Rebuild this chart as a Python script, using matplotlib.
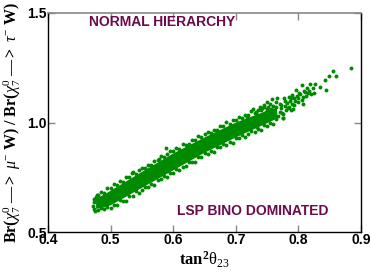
import matplotlib
matplotlib.use("Agg")
import matplotlib.pyplot as plt

plt.rcParams['mathtext.fontset'] = 'custom'
plt.rcParams['mathtext.rm'] = 'Liberation Serif'
plt.rcParams['mathtext.it'] = 'Liberation Serif:italic'
plt.rcParams['mathtext.bf'] = 'Liberation Serif:bold'

# ---- data ----
# dense core of the band: x, lower edge, upper edge
core_x  = [0.476, 0.49, 0.50, 0.55, 0.60, 0.65, 0.70, 0.75, 0.765]
core_lo = [0.608, 0.615, 0.625, 0.705, 0.785, 0.865, 0.935, 1.000, 1.020]
core_hi = [0.655, 0.675, 0.692, 0.778, 0.862, 0.935, 1.003, 1.057, 1.070]

# individual points at the band edges and in the sparse upper end
left_x = [0.473, 0.472, 0.473, 0.474, 0.476, 0.475, 0.478]
left_y = [0.605, 0.620, 0.635, 0.650, 0.660, 0.598, 0.668]

low_x = [0.480, 0.485, 0.490, 0.495, 0.500, 0.505, 0.510, 0.515, 0.520, 0.525,
         0.530, 0.535, 0.540, 0.545, 0.550, 0.555, 0.560, 0.565, 0.570, 0.575,
         0.580, 0.585, 0.590, 0.595, 0.600, 0.605, 0.610, 0.615, 0.620, 0.625,
         0.630, 0.635, 0.640, 0.645, 0.650, 0.655, 0.660, 0.665, 0.670, 0.675,
         0.680, 0.685, 0.690, 0.695, 0.700, 0.705, 0.710, 0.715, 0.720, 0.725,
         0.730, 0.735, 0.740, 0.745, 0.750, 0.755, 0.760, 0.765]
low_y = [0.600, 0.608, 0.603, 0.614, 0.610, 0.625, 0.623, 0.644, 0.643, 0.643,
         0.664, 0.665, 0.685, 0.678, 0.694, 0.707, 0.704, 0.719, 0.716, 0.738,
         0.740, 0.757, 0.751, 0.768, 0.771, 0.788, 0.781, 0.798, 0.801, 0.819,
         0.820, 0.819, 0.841, 0.842, 0.860, 0.855, 0.869, 0.867, 0.886, 0.887,
         0.903, 0.896, 0.910, 0.907, 0.927, 0.927, 0.942, 0.936, 0.949, 0.963,
         0.958, 0.972, 0.967, 0.987, 0.986, 0.997, 0.995, 1.014]

up_x = [0.480, 0.485, 0.490, 0.495, 0.500, 0.505, 0.510, 0.515, 0.520, 0.525,
        0.530, 0.535, 0.540, 0.545, 0.550, 0.555, 0.560, 0.565, 0.570, 0.575,
        0.580, 0.585, 0.590, 0.595, 0.600, 0.605, 0.610, 0.615, 0.620, 0.625,
        0.630, 0.635, 0.640, 0.645, 0.650, 0.655, 0.660, 0.665, 0.670, 0.675,
        0.680, 0.685, 0.690, 0.695, 0.700, 0.705, 0.710, 0.715, 0.720, 0.725,
        0.730, 0.735, 0.740, 0.745, 0.750]
up_y = [0.668, 0.684, 0.680, 0.702, 0.701, 0.718, 0.713, 0.731, 0.729, 0.750,
        0.751, 0.772, 0.764, 0.781, 0.794, 0.792, 0.805, 0.806, 0.825, 0.828,
        0.847, 0.842, 0.857, 0.871, 0.869, 0.883, 0.880, 0.900, 0.899, 0.902,
        0.920, 0.921, 0.940, 0.933, 0.946, 0.958, 0.954, 0.965, 0.965, 0.985,
        0.985, 1.002, 0.995, 1.010, 1.012, 1.027, 1.019, 1.034, 1.034, 1.051,
        1.042, 1.057, 1.058, 1.071, 1.063]

mid_x = [0.768, 0.770, 0.772, 0.775, 0.778, 0.780, 0.782, 0.785, 0.787, 0.790,
         0.792, 0.795, 0.797, 0.800, 0.803, 0.806, 0.810, 0.812, 0.817, 0.820,
         0.770, 0.765, 0.760, 0.755, 0.752, 0.745, 0.738, 0.728, 0.778, 0.785,
         0.790, 0.762, 0.775, 0.757, 0.748, 0.733]
mid_y = [1.030, 1.050, 1.065, 1.040, 1.075, 1.055, 1.090, 1.070, 1.100, 1.085,
         1.060, 1.100, 1.120, 1.110, 1.130, 1.105, 1.140, 1.120, 1.145, 1.130,
         1.085, 1.095, 1.075, 1.085, 1.070, 1.080, 1.070, 1.060, 1.100, 1.115,
         1.125, 1.045, 1.020, 1.060, 1.050, 1.048]

out_x = [0.589, 0.577, 0.534, 0.884, 0.856, 0.849, 0.860, 0.843, 0.844, 0.835,
         0.826, 0.818, 0.823, 0.825, 0.805, 0.813, 0.796, 0.809, 0.801, 0.815,
         0.807, 0.808, 0.793, 0.788, 0.799, 0.777, 0.766, 0.758, 0.750, 0.788,
         0.776, 0.774, 0.783, 0.793, 0.772, 0.742, 0.732, 0.756, 0.764, 0.761,
         0.740, 0.724, 0.734, 0.718]
out_y = [0.882, 0.833, 0.768, 1.250, 1.237, 1.214, 1.214, 1.193, 1.148, 1.161,
         1.176, 1.177, 1.156, 1.133, 1.171, 1.156, 1.148, 1.144, 1.133, 1.133,
         1.118, 1.083, 1.113, 1.110, 1.095, 1.113, 1.110, 1.107, 1.095, 1.057,
         1.019, 1.042, 1.065, 1.080, 1.080, 1.068, 1.042, 1.057, 1.072, 1.042,
         1.011, 1.004, 0.981, 1.026]

xticks = [0.4, 0.5, 0.6, 0.7, 0.8, 0.9]
yticks = [0.5, 1.0, 1.5]

green = '#008a00'
txtc = '#6b0a4c'

W, H = 371, 273
fig = plt.figure(figsize=(W/100, H/100), dpi=100)
ax = fig.add_axes([48/W, 1-232/H, (361-48)/W, (232-13)/H])

ax.fill_between(core_x, core_lo, core_hi, color=green, lw=0)
px = left_x + low_x + up_x + mid_x + out_x
py = left_y + low_y + up_y + mid_y + out_y
ax.scatter(px, py, s=8, color=green, lw=0)

ax.set_xlim(0.4, 0.9)
ax.set_ylim(0.5, 1.5)
ax.set_xticks(xticks)
ax.set_yticks(yticks)
ax.set_xticklabels([f'{v:.1f}' for v in xticks])
ax.set_yticklabels([f'{v:.1f}' for v in yticks])
for lab in ax.get_xticklabels() + ax.get_yticklabels():
    lab.set_fontfamily('Liberation Sans')
    lab.set_fontweight('bold')
    lab.set_fontsize(10)
ax.tick_params(direction='in', length=5, color='#888888', width=1, pad=1)
ax.tick_params(top=True, right=True)
for s in ['left', 'bottom', 'right']:
    ax.spines[s].set_color('black')
    ax.spines[s].set_linewidth(1)
ax.spines['top'].set_color('#888888')
ax.spines['top'].set_linewidth(1.2)

ax.text(0.4657, 1.457, 'NORMAL HIERARCHY', color=txtc, fontsize=10,
        fontweight='bold', family='Liberation Sans', ha='left', va='center')
ax.text(0.6067, 0.596, 'LSP BINO DOMINATED', color=txtc, fontsize=10,
        fontweight='bold', family='Liberation Sans', ha='left', va='center')

ax.set_xlabel(r'$\mathbf{tan}^{\mathbf{2}}\mathrm{\theta}_{23}$', fontsize=12, labelpad=2)

# y label: vertical text, placed with figure coordinates
ylab = fig.text(12/W, 0.5, r'$\mathbf{Br(}\chi^{0}_{7}\ \mathbf{—>}\ \mu^{-}\ \mathbf{W)\ /\ Br(}\chi^{0}_{7}\ \mathbf{—>}\ \tau^{-}\ \mathbf{W)}$',
                fontsize=10, rotation=90, ha='center', va='center')
fig.canvas.draw()
bb = ylab.get_window_extent()
ylab.set_fontsize(10 * 242 / bb.height)
ylab.set_y(1 - 123 / H)

fig.savefig('out.png', dpi=100)
